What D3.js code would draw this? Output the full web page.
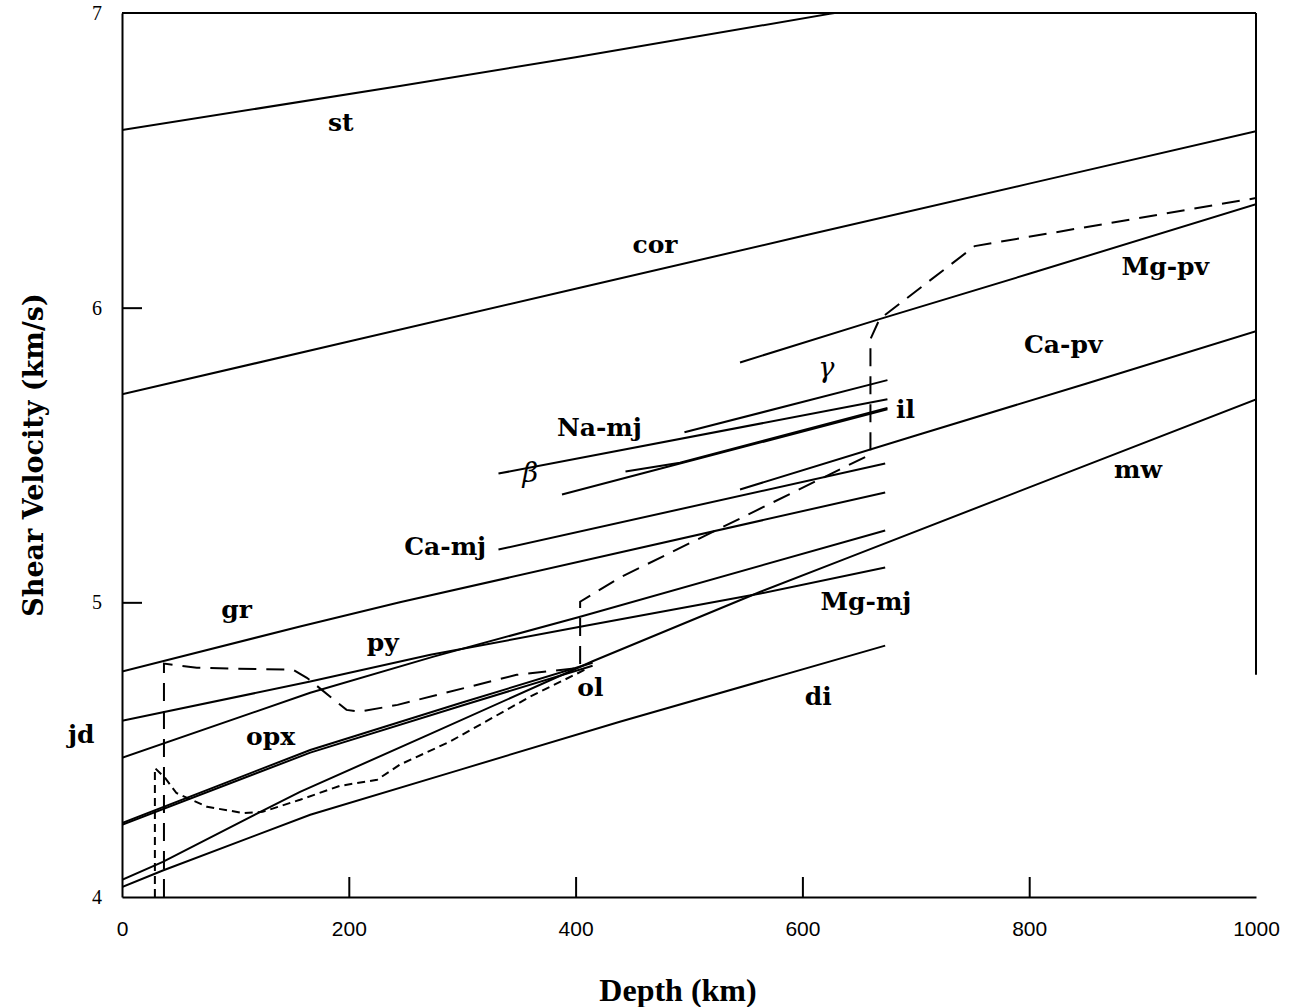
<!DOCTYPE html>
<html>
<head>
<meta charset="utf-8">
<script src="https://cdn.jsdelivr.net/npm/d3@7"></script>
<style>
  body { margin: 0; background: #fff; }
  svg { display: block; }
</style>
</head>
<body>
<div id="chart"></div>
<script>
// axis ticks
const depthTicks = [0, 200, 400, 600, 800, 1000];
const velTicks = [4, 5, 6, 7];

// mineral curves: [depth km, Vs km/s]
const st    = [[0,6.603],[245,6.752],[400,6.85],[624,6.997],[1000,7.23]];
const cor   = [[0,5.706],[200,5.885],[400,6.064],[600,6.243],[800,6.421],[1000,6.599]];
const mgPv  = [[545,5.814],[668,5.961],[800,6.115],[1000,6.351]];
const caPv  = [[545,5.383],[700,5.566],[850,5.742],[1000,5.92]];
const mw    = [[0,4.058],[36,4.119],[122,4.289],[157,4.357],[270,4.55],[415,4.80],[563,5.036],[636,5.145],[800,5.39],[1000,5.689]];
const di    = [[0,4.034],[36,4.09],[166,4.279],[300,4.434],[439,4.595],[673,4.853]];
const opx   = [[0,4.251],[166,4.499],[300,4.66],[415,4.795]];
const ol    = [[0,4.245],[166,4.49],[300,4.65],[415,4.785]];
const jd    = [[0,4.472],[166,4.693],[274,4.815],[404,4.951],[673,5.244]];
const py    = [[0,4.598],[166,4.731],[272,4.822],[404,4.917],[563,5.03],[673,5.118]];
const gr    = [[0,4.765],[157,4.918],[245,5.0],[673,5.373]];
const caMj  = [[332,5.179],[673,5.471]];
const naMj  = [[332,5.437],[675,5.689]];
const beta  = [[388,5.366],[492,5.471],[675,5.655]];
const il    = [[444,5.444],[492,5.474],[675,5.66]];
const gamma = [[496,5.577],[675,5.754]];

// model profiles (dashed)
const dashLong  = [[37,4.0],[37,4.792],[66,4.778],[151,4.771],[163,4.744],[198,4.635],[210,4.629],[243,4.652],[348,4.754],[404,4.778],[404,5.002],[439,5.084],[660,5.502],[660,5.893],[668,5.961],[752,6.209],[1000,6.372]];
const dashShort = [[29,4.0],[29,4.438],[38,4.404],[48,4.353],[75,4.306],[107,4.285],[124,4.289],[157,4.33],[192,4.377],[225,4.398],[245,4.449],[289,4.527],[360,4.68],[408,4.771]];

// curve labels: [text, depth, Vs]
const labels = [
  ["st",193,6.630],["cor",470,6.215],["Mg-pv",920,6.141],["Ca-pv",830,5.876],
  ["Na-mj",421,5.594],["il",691,5.655],["mw",896,5.451],["Ca-mj",285,5.189],
  ["gr",101,4.975],["Mg-mj",656,5.002],["py",230,4.863],["ol",413,4.710],
  ["di",614,4.680],["opx",131,4.544],["jd",-36,4.550]
];
const greek = [["γ",621,5.797],["β",360,5.441]];

const width = 1296, height = 1007;

const svg = d3.select("#chart")
  .append("svg")
    .attr("width", width)
    .attr("height", height);

svg.append("rect").attr("width", width).attr("height", height).attr("fill", "#fff");

const x = d3.scaleLinear().domain([0, 1000]).range([122, 1256]);
const y = d3.scaleLinear().domain([4, 7]).range([897, 13]);

svg.append("clipPath").attr("id", "plot")
  .append("rect")
    .attr("x", x(0)).attr("y", y(7))
    .attr("width", x(1000) - x(0)).attr("height", y(4) - y(7));

const line = d3.line().x(d => x(d[0])).y(d => y(d[1]));

const g = svg.append("g").attr("clip-path", "url(#plot)");

[st, cor, mgPv, caPv, mw, di, opx, ol, jd, py, gr, caMj, naMj, beta, il, gamma].forEach(s => {
  g.append("path")
    .attr("d", line(s))
    .attr("fill", "none")
    .attr("stroke", "#000")
    .attr("stroke-width", 2);
});

g.append("path")
  .attr("d", line(dashLong))
  .attr("fill", "none")
  .attr("stroke", "#000")
  .attr("stroke-width", 2)
  .attr("stroke-dasharray", "18,10");

g.append("path")
  .attr("d", line(dashShort))
  .attr("fill", "none")
  .attr("stroke", "#000")
  .attr("stroke-width", 2)
  .attr("stroke-dasharray", "8,5");

// X axis
const xAxis = svg.append("g")
  .attr("transform", `translate(0,${y(4)})`)
  .call(d3.axisBottom(x).tickValues(depthTicks).tickFormat(d3.format("d"))
    .tickSizeInner(-20).tickSizeOuter(0).tickPadding(24));
xAxis.select(".domain").attr("stroke-width", 2);
xAxis.selectAll(".tick line").attr("stroke-width", 2)
  .filter(d => d === 0 || d === 1000).remove();
xAxis.selectAll("text")
  .attr("font-family", "Liberation Sans, Arial, sans-serif")
  .attr("font-size", 21);

// Y axis
const yAxis = svg.append("g")
  .attr("transform", `translate(${x(0)},0)`)
  .call(d3.axisLeft(y).tickValues(velTicks).tickFormat(d3.format("d"))
    .tickSizeInner(-20).tickSizeOuter(0).tickPadding(20));
yAxis.select(".domain").attr("stroke-width", 2);
yAxis.selectAll(".tick line").attr("stroke-width", 2)
  .filter(d => d === 4 || d === 7).remove();
yAxis.selectAll("text")
  .attr("font-family", "Liberation Serif, serif")
  .attr("font-size", 20);

// top and right frame
svg.append("line")
  .attr("x1", x(0)).attr("x2", x(1000))
  .attr("y1", y(7)).attr("y2", y(7))
  .attr("stroke", "#000").attr("stroke-width", 2);
svg.append("line")
  .attr("x1", x(1000)).attr("x2", x(1000))
  .attr("y1", y(7)).attr("y2", y(4.754))
  .attr("stroke", "#000").attr("stroke-width", 2);

// curve labels
svg.selectAll(".lbl")
  .data(labels)
  .join("text")
    .attr("class", "lbl")
    .attr("x", d => x(d[1]))
    .attr("y", d => y(d[2]))
    .attr("text-anchor", "middle")
    .attr("dominant-baseline", "central")
    .attr("font-family", "DejaVu Serif, serif")
    .attr("font-weight", "bold")
    .attr("font-size", 25)
    .text(d => d[0]);

svg.selectAll(".grk")
  .data(greek)
  .join("text")
    .attr("class", "grk")
    .attr("x", d => x(d[1]))
    .attr("y", d => y(d[2]))
    .attr("text-anchor", "middle")
    .attr("dominant-baseline", "central")
    .attr("font-family", "DejaVu Serif, serif")
    .attr("font-style", "italic")
    .attr("font-size", 27)
    .text(d => d[0]);

// axis titles
svg.append("text")
  .attr("x", 678)
  .attr("y", 1001)
  .attr("text-anchor", "middle")
  .attr("font-family", "Liberation Serif, serif")
  .attr("font-weight", "bold")
  .attr("font-size", 32)
  .text("Depth (km)");

svg.append("text")
  .attr("transform", "translate(43,455) rotate(-90)")
  .attr("text-anchor", "middle")
  .attr("font-family", "DejaVu Serif, serif")
  .attr("font-weight", "bold")
  .attr("font-size", 27)
  .text("Shear Velocity (km/s)");
</script>
</body>
</html>
